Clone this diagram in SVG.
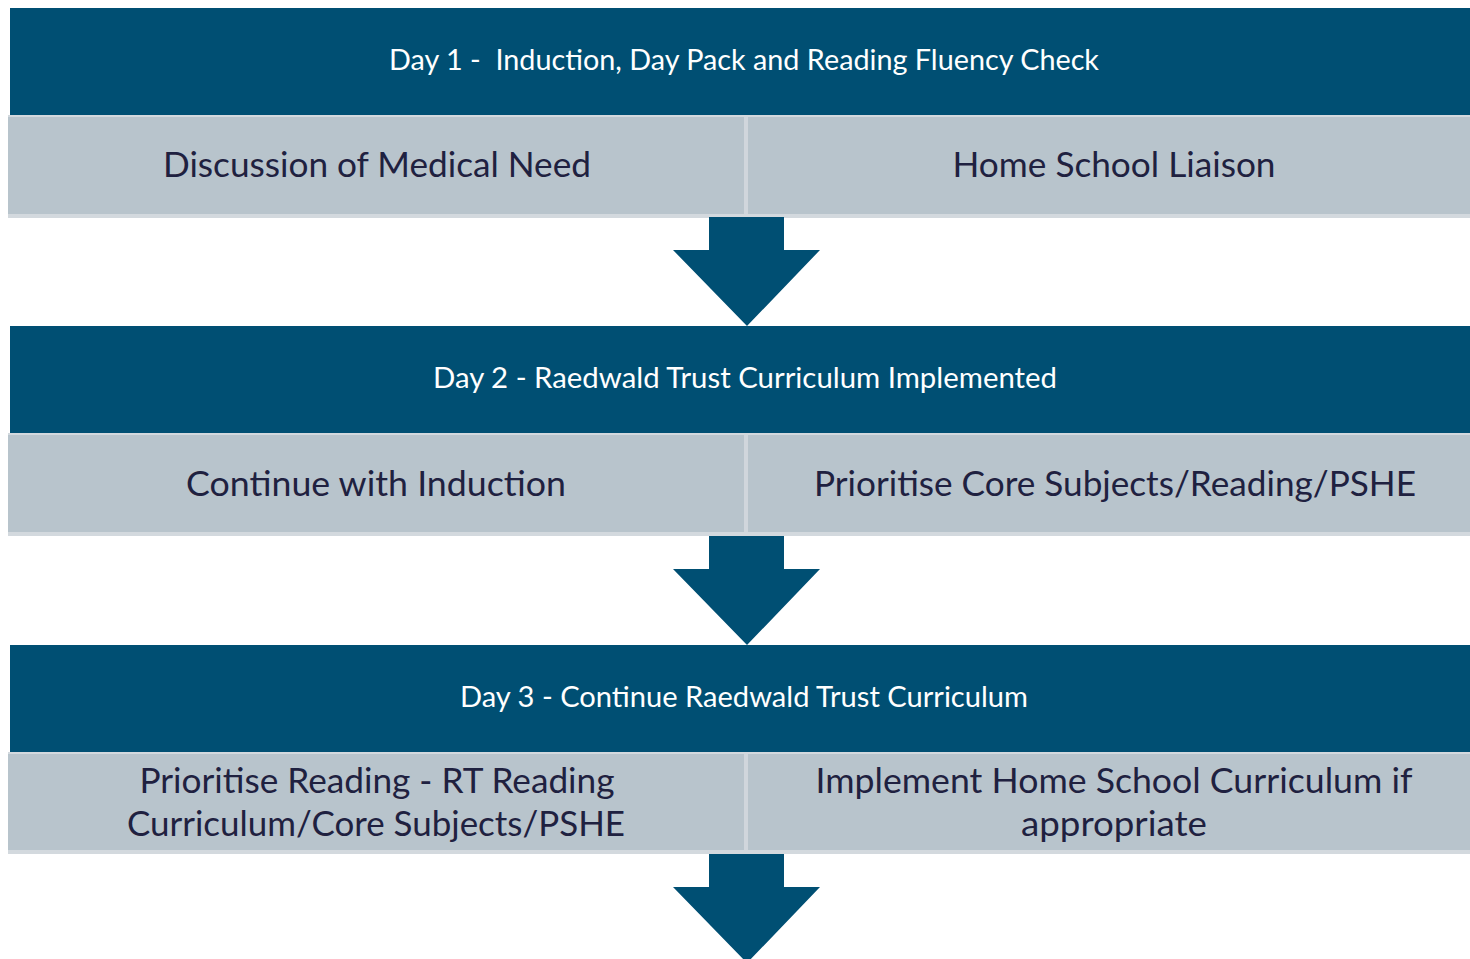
<svg xmlns="http://www.w3.org/2000/svg" width="1470" height="959" viewBox="0 0 1470 959">
<style>
.hdr{fill:#004f73}
.sub{fill:#b8c4cc}
.edge{fill:#d3d9de}
.div{fill:#d0d6dc}
.arr{fill:#004f73}
.ht{font-family:Lato,"Open Sans","Liberation Sans",sans-serif;font-size:28px;fill:#ffffff;text-anchor:middle}
.st{font-family:Lato,"Open Sans","Liberation Sans",sans-serif;font-size:35px;fill:#1f2140;text-anchor:middle}
</style>
<rect width="1470" height="959" fill="#ffffff"/>
<g id="day1">
<rect class="hdr" x="10" y="8" width="1460" height="107"/>
<rect class="edge" x="8" y="115" width="1462" height="103"/>
<rect class="sub" x="8" y="117" width="1462" height="97"/>
<rect class="div" x="744" y="117" width="4" height="97"/>
<text class="ht" x="744" y="70" textLength="710" lengthAdjust="spacingAndGlyphs" xml:space="preserve">Day 1 -  Induction, Day Pack and Reading Fluency Check</text>
<text class="st" x="377" y="177" textLength="428" lengthAdjust="spacingAndGlyphs">Discussion of Medical Need</text>
<text class="st" x="1114" y="177" textLength="323" lengthAdjust="spacingAndGlyphs">Home School Liaison</text>
</g>
<g id="day2">
<rect class="hdr" x="10" y="326" width="1460" height="107"/>
<rect class="edge" x="8" y="433" width="1462" height="103"/>
<rect class="sub" x="8" y="435" width="1462" height="97"/>
<rect class="div" x="744" y="435" width="4" height="97"/>
<text class="ht" x="745" y="388" textLength="624" lengthAdjust="spacingAndGlyphs">Day 2 - Raedwald Trust Curriculum Implemented</text>
<text class="st" x="376" y="496" textLength="380" lengthAdjust="spacingAndGlyphs">Continue with Induction</text>
<text class="st" x="1115" y="496" textLength="602" lengthAdjust="spacingAndGlyphs">Prioritise Core Subjects/Reading/PSHE</text>
</g>
<g id="day3">
<rect class="hdr" x="10" y="645" width="1460" height="107"/>
<rect class="edge" x="8" y="752" width="1462" height="102"/>
<rect class="sub" x="8" y="754" width="1462" height="96"/>
<rect class="div" x="744" y="754" width="4" height="96"/>
<text class="ht" x="744" y="707" textLength="568" lengthAdjust="spacingAndGlyphs">Day 3 - Continue Raedwald Trust Curriculum</text>
<text class="st" x="377" y="793" textLength="475" lengthAdjust="spacingAndGlyphs">Prioritise Reading - RT Reading</text>
<text class="st" x="376" y="836" textLength="498" lengthAdjust="spacingAndGlyphs">Curriculum/Core Subjects/PSHE</text>
<text class="st" x="1114" y="793" textLength="597" lengthAdjust="spacingAndGlyphs">Implement Home School Curriculum if</text>
<text class="st" x="1114" y="836" textLength="186" lengthAdjust="spacingAndGlyphs">appropriate</text>
</g>
<g id="connectors">
<polygon class="arr" points="709,217 784,217 784,250 820,250 747,326 673,250 709,250"/>
<polygon class="arr" points="709,536 784,536 784,569 820,569 747,645 673,569 709,569"/>
<polygon class="arr" points="709,854 784,854 784,887 820,887 747,963 673,887 709,887"/>
</g>
</svg>
